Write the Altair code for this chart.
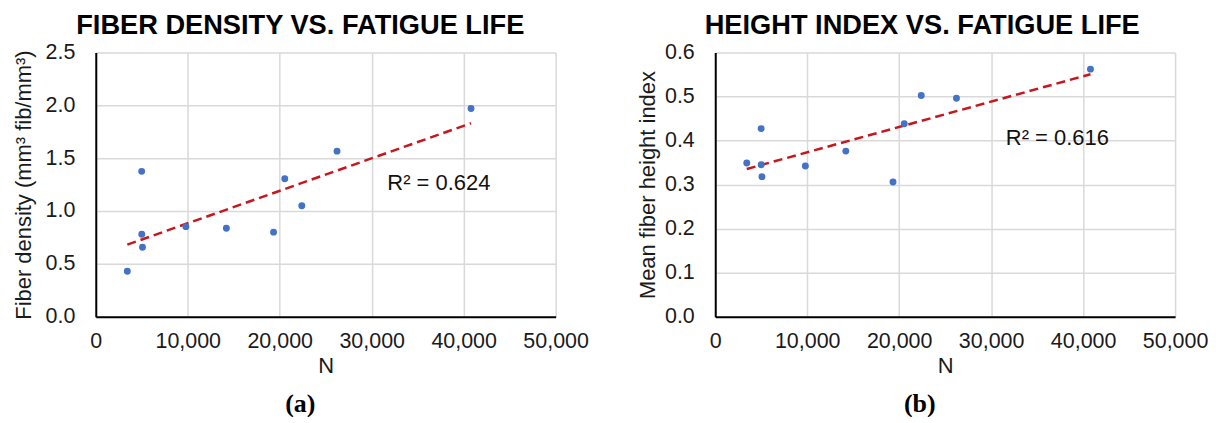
import altair as alt
import pandas as pd

# Fatigue life (cycles) of the specimens
cycles = [3430, 4990, 5000, 5080, 9800, 14200, 19330, 20550, 22400, 26230, 40800]
# Panel (a): fiber density (mm3 fib/mm3)
fiber_density = [0.43, 1.375, 0.78, 0.657, 0.852, 0.837, 0.80, 1.305, 1.05, 1.566, 1.97]
# Panel (b): mean fiber height index
height_index = [0.349, 0.427, 0.345, 0.318, 0.342, 0.376, 0.306, 0.438, 0.502, 0.496, 0.562]

titles = ["FIBER DENSITY VS. FATIGUE LIFE", "HEIGHT INDEX VS. FATIGUE LIFE"]
y_titles = ["Fiber density (mm³ fib/mm³)", "Mean fiber height index"]
r2_labels = ["R² = 0.624", "R² = 0.616"]
r2_at_n = [31700, 31600]
r2_at_y = [1.265, 0.405]
panel_labels = ["(a)", "(b)"]
y_domains = [[0, 2.5], [0, 0.6]]
y_ticks = [[0, 0.5, 1.0, 1.5, 2.0, 2.5], [0, 0.1, 0.2, 0.3, 0.4, 0.5, 0.6]]
x_ticks = [0, 10000, 20000, 30000, 40000, 50000]
y_title_pad = [10, 5]

W, H = 461, 265
FONT = "Liberation Sans"


def panel(i, values):
    df = pd.DataFrame({"N": cycles, "v": values})
    x = alt.X("N:Q", scale=alt.Scale(domain=[0, 50000], nice=False),
              axis=alt.Axis(values=x_ticks, format=",d", title="N", labelFlush=False,
                            labelPadding=14, titlePadding=3))
    y = alt.Y("v:Q", scale=alt.Scale(domain=y_domains[i], nice=False),
              axis=alt.Axis(values=y_ticks[i], format=".1f", title=y_titles[i], labelFlush=False,
                            labelPadding=21, titlePadding=y_title_pad[i]))
    base = alt.Chart(df)
    pts = base.mark_circle(size=48, color="#4472C4", opacity=1).encode(x=x, y=y)
    trend = base.transform_regression("N", "v").mark_line(
        color="#C8161D", strokeDash=[9, 5], strokeWidth=2.5
    ).encode(x="N:Q", y="v:Q")
    r2 = alt.Chart(pd.DataFrame({"N": [r2_at_n[i]], "v": [r2_at_y[i]], "t": [r2_labels[i]]})).mark_text(
        align="left", baseline="middle", fontSize=22, font=FONT, color="#111111"
    ).encode(x="N:Q", y="v:Q", text="t:N")
    lab = alt.Chart(pd.DataFrame({"t": [panel_labels[i]]})).mark_text(
        font="Liberation Serif", fontWeight="bold", fontSize=26, baseline="middle",
        align="center", color="#000000"
    ).encode(x=alt.value(205), y=alt.value(352), text="t:N")
    return alt.layer(trend, pts, r2, lab).properties(
        width=W, height=H,
        title=alt.TitleParams(titles[i], frame="bounds", anchor="middle", fontSize=27.3,
                              font=FONT, fontWeight="bold", color="#000000",
                              baseline="alphabetic", offset=-20),
    )


chart = alt.hconcat(panel(0, fiber_density), panel(1, height_index),
                    spacing=160, bounds="flush").properties(
    padding={"left": 4, "top": 3, "right": 0, "bottom": 0}
).configure_view(stroke=None).configure_axis(
    grid=True, gridColor="#D9D9D9", gridWidth=1.5,
    domainColor="#000000", domainWidth=2,
    ticks=False, tickSize=0,
    labelFont=FONT, labelFontSize=21.5, labelColor="#1a1a1a",
    titleFont=FONT, titleFontSize=22, titleFontWeight="normal", titleColor="#1a1a1a",
)

chart.save("out.html", embed_options={"renderer": "svg", "actions": False})
